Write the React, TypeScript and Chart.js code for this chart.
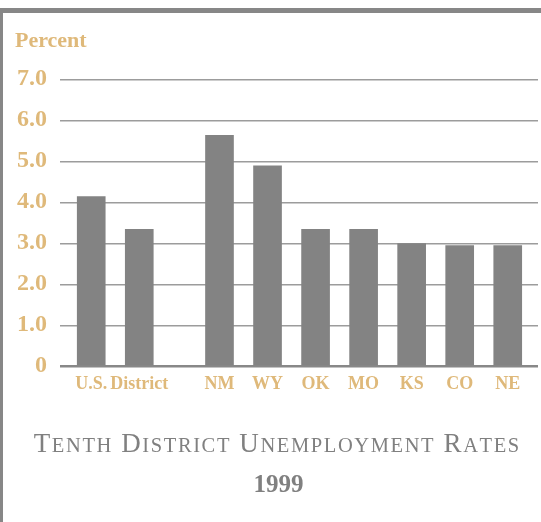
import { useEffect, useRef } from 'react';
import { Chart, registerables } from 'chart.js';

Chart.register(...registerables);

// Unemployment rates, 1999 (percent)
const categories = ['U.S.', 'District', 'NM', 'WY', 'OK', 'MO', 'KS', 'CO', 'NE'];
const unemploymentRates = [4.15, 3.35, 5.65, 4.9, 3.35, 3.35, 3.0, 2.95, 2.95];
const yTickValues = [0, 1, 2, 3, 4, 5, 6, 7];
const yTickLabels = ['0', '1.0', '2.0', '3.0', '4.0', '5.0', '6.0', '7.0'];
const axisLabel = 'Percent';
const titleText = 'Tenth District Unemployment Rates';
const subtitleText = '1999';

// The states are set apart from the U.S./District pair by a wider gap.
const GROUP_BREAK = 2;
const GROUP_GAP = 0.67;
const slotPosition = (i: number) => i + (i >= GROUP_BREAK ? GROUP_GAP : 0);

const SERIF = '"Liberation Serif", "Times New Roman", serif';
const TAN = '#dfb97a';
const GRAY_TEXT = '#808080';
const BAR_COLOR = '#838383';
const PAD_LEFT = 15;

const captionPlugin = {
  id: 'caption',
  afterDraw(chart: Chart) {
    const { ctx, chartArea } = chart;
    const big = 27;
    const small = 20.5;
    const spacing = 1.6;
    const cx = (PAD_LEFT + chartArea.right) / 2;
    ctx.save();
    ctx.fillStyle = GRAY_TEXT;
    ctx.textBaseline = 'alphabetic';
    ctx.textAlign = 'left';

    // small-caps: first letter of each word at full size, the rest as reduced capitals
    const glyphs: { ch: string; size: number }[] = [];
    titleText.split(' ').forEach((word, wi) => {
      if (wi > 0) glyphs.push({ ch: ' ', size: big });
      Array.from(word).forEach((c, ci) =>
        glyphs.push({ ch: c.toUpperCase(), size: ci === 0 ? big : small })
      );
    });
    const widths = glyphs.map((g) => {
      ctx.font = `${g.size}px ${SERIF}`;
      return ctx.measureText(g.ch).width;
    });
    const total = widths.reduce((a, b) => a + b, 0) + spacing * (glyphs.length - 1);
    let x = cx - total / 2;
    const y1 = chartArea.bottom + 86;
    glyphs.forEach((g, i) => {
      ctx.font = `${g.size}px ${SERIF}`;
      ctx.fillText(g.ch, x, y1);
      x += widths[i] + spacing;
    });

    ctx.font = `bold 25px ${SERIF}`;
    ctx.textAlign = 'center';
    ctx.fillText(subtitleText, cx + 2, chartArea.bottom + 126);
    ctx.restore();
  },
};

export default function App() {
  const canvasRef = useRef<HTMLCanvasElement>(null);

  useEffect(() => {
    const canvas = canvasRef.current;
    if (!canvas) return;
    const lastPos = slotPosition(categories.length - 1);

    const chart = new Chart(canvas, {
      type: 'bar',
      data: {
        datasets: [
          {
            label: axisLabel,
            data: unemploymentRates.map((v, i) => ({ x: slotPosition(i), y: v })),
            backgroundColor: BAR_COLOR,
            borderWidth: 0,
            barThickness: 28,
          },
        ],
      },
      options: {
        responsive: false,
        animation: false,
        layout: { padding: { left: PAD_LEFT, right: 3, top: 0, bottom: 120 } },
        plugins: {
          legend: { display: false },
          tooltip: { enabled: false },
          title: {
            display: true,
            text: axisLabel,
            position: 'top',
            align: 'start',
            color: TAN,
            font: { family: SERIF, size: 22, weight: 'bold' },
            padding: { top: 28, bottom: 25.6 },
          },
        },
        scales: {
          x: {
            type: 'linear',
            offset: false,
            min: -0.65,
            max: lastPos + 0.63,
            grid: { display: false, drawTicks: false },
            border: { display: false },
            afterBuildTicks: (scale: any) => {
              scale.ticks = categories.map((_, i) => ({ value: slotPosition(i) }));
            },
            ticks: {
              autoSkip: false,
              maxRotation: 0,
              minRotation: 0,
              padding: 7,
              color: TAN,
              font: { family: SERIF, size: 18, weight: 'bold' },
              callback: (_v: any, index: number) => categories[index],
            },
          },
          y: {
            min: 0,
            max: 7,
            afterFit: (scale: any) => {
              scale.width = 45;
            },
            afterBuildTicks: (scale: any) => {
              scale.ticks = yTickValues.map((v) => ({ value: v }));
            },
            grid: {
              drawTicks: false,
              color: (c: any) => (c.tick && c.tick.value === 0 ? '#888888' : '#9c9c9c'),
              lineWidth: (c: any) => (c.tick && c.tick.value === 0 ? 2.5 : 1.5),
            },
            border: { display: false },
            ticks: {
              padding: 13,
              labelOffset: -1,
              color: TAN,
              font: { family: SERIF, size: 24, weight: 'bold' },
              callback: (v: any) => yTickLabels[yTickValues.indexOf(Number(v))],
            },
          },
        },
      },
      plugins: [captionPlugin],
    } as any);

    return () => chart.destroy();
  }, []);

  return (
    <div style={{ position: 'fixed', left: 0, top: 0, width: 541, height: 522, background: '#ffffff' }}>
      <canvas
        ref={canvasRef}
        width={541}
        height={522}
        style={{ display: 'block', width: 541, height: 522 }}
      />
      <div
        style={{
          position: 'absolute',
          left: 0,
          top: 8,
          width: 541,
          height: 514,
          borderTop: '5px solid #878787',
          borderLeft: '3px solid #878787',
          boxSizing: 'border-box',
          pointerEvents: 'none',
        }}
      />
    </div>
  );
}
